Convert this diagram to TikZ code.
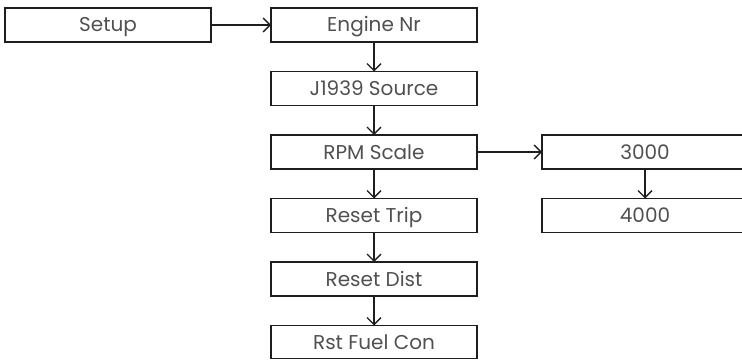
\documentclass[tikz,border=0pt]{standalone}
\usepackage{fontspec}
\setmainfont{Poppins}
\usetikzlibrary{positioning, arrows.meta}
\definecolor{boxtext}{RGB}{80, 80, 80}
\definecolor{boxline}{RGB}{30, 30, 30}

\begin{document}
\begin{tikzpicture}[x=1pt, y=1pt, >={Straight Barb[length=7pt, width=14pt]},
  menu/.style={draw=boxline, line width=1.4pt, minimum width=206pt,
    minimum height=34pt, inner sep=0pt, outer sep=0pt, text=boxtext,
    text height=14pt, text depth=0pt, font=\fontsize{20}{22}\selectfont}]
  \useasboundingbox (0,0) rectangle (742,-361);
  % Main menu column
  \node[menu] (setup) at (108,-25) {Setup};
  \node[menu, right=60pt of setup] (engine) {Engine Nr};
  \node[menu, below=29.5pt of engine] (source) {J1939 Source};
  \node[menu, below=29.5pt of source] (rpm) {RPM Scale};
  \node[menu, below=29.5pt of rpm] (trip) {Reset Trip};
  \node[menu, below=29.5pt of trip] (dist) {Reset Dist};
  \node[menu, below=29.5pt of dist, minimum height=33pt] (fuel) {Rst Fuel Con};
  % RPM scale choices
  \node[menu, right=65pt of rpm] (rpmlow) {3000};
  \node[menu, below=29.5pt of rpmlow] (rpmhigh) {4000};
  % Links
  \draw[->, boxline, line width=1.4pt] (setup) -- (engine);
  \draw[->, boxline, line width=1.4pt] (rpm) -- (rpmlow);
  \foreach \a/\b in {engine/source, source/rpm, rpm/trip, trip/dist, dist/fuel, rpmlow/rpmhigh}{
    \draw[->, boxline, line width=1.4pt] (\a) -- (\b);
  }
\end{tikzpicture}
\end{document}
